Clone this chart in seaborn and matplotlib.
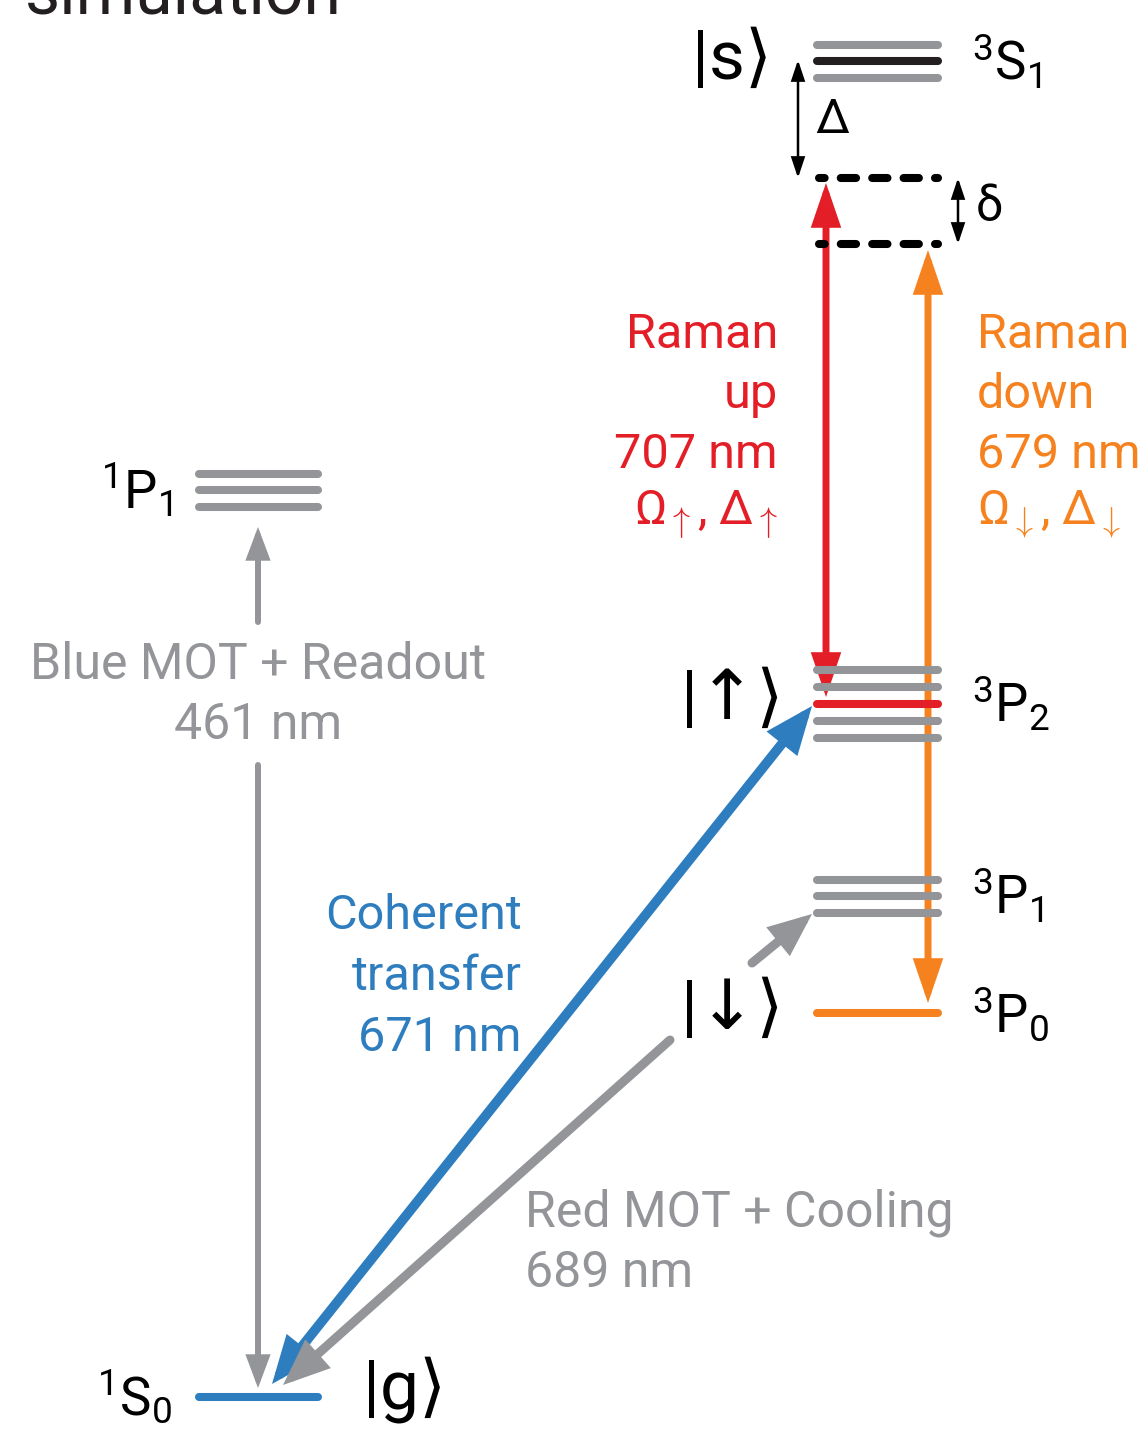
import pandas as pd
import matplotlib
matplotlib.use('Agg')
import matplotlib.pyplot as plt
import seaborn as sns
from matplotlib.patches import FancyArrowPatch

# ---- data (y runs downward like the image) ----
level_term = ['1P1', '1P1', '1P1', '1S0', '3S1', '3S1', '3S1',
              '3P2', '3P2', '3P2', '3P2', '3P2', '3P1', '3P1', '3P1', '3P0']
level_col = ['left', 'left', 'left', 'left', 'right', 'right', 'right',
             'right', 'right', 'right', 'right', 'right', 'right', 'right', 'right', 'right']
level_y = [474, 490, 507, 1397, 45, 61, 78,
           670, 687, 704, 721, 738, 880, 896, 913, 1013]
level_color = ['grey', 'grey', 'grey', 'blue', 'grey', 'black', 'grey',
               'grey', 'grey', 'red', 'grey', 'grey', 'grey', 'grey', 'grey', 'orange']
virtual_y = [178, 244]

# transitions: (x0, y0, x1, y1)
blue_mot_up = (258, 622, 258, 527)
blue_mot_down = (258, 765, 258, 1388)
raman_up = (826, 697, 826, 183)
raman_down = (928, 250, 928, 1003)
coherent = (272, 1384, 812, 706)
red_mot = (670, 1040, 283, 1385)
red_mot_short = (752, 963, 812, 914)
detuning_big = (798, 60, 798, 178)
detuning_small = (958, 178, 958, 244)

blue_mot_text = ['Blue MOT + Readout', '461 nm']
coherent_text = ['Coherent', 'transfer', '671 nm']
raman_up_text = ['Raman', 'up', '707 nm', r'$\Omega_{\uparrow}$, $\Delta_{\uparrow}$']
raman_down_text = ['Raman', 'down', '679 nm', r'$\Omega_{\downarrow}$, $\Delta_{\downarrow}$']
red_mot_text = ['Red MOT + Cooling', '689 nm']

term_labels = {'1P1': r'$^{1}$P$_{1}$', '1S0': r'$^{1}$S$_{0}$', '3S1': r'$^{3}$S$_{1}$',
               '3P2': r'$^{3}$P$_{2}$', '3P1': r'$^{3}$P$_{1}$', '3P0': r'$^{3}$P$_{0}$'}
term_label_y = {'1P1': 490, '1S0': 1397, '3S1': 62, '3P2': 704, '3P1': 896, '3P0': 1014}
kets = ['|s⟩', '|↑⟩', '|↓⟩', '|g⟩']
ket_pos = [(732, 60), (732, 700), (732, 1010), (405, 1390)]

palette = {'grey': '#939598', 'blue': '#2e7dbf', 'red': '#e31e26',
           'orange': '#f5821f', 'black': '#231f20'}
col_x = {'left': (199, 318), 'right': (817, 938)}

sns.set_theme(style='white')
plt.rcParams['font.family'] = ['Roboto', 'DejaVu Sans']
plt.rcParams['mathtext.fontset'] = 'custom'
plt.rcParams['mathtext.rm'] = 'Roboto'
plt.rcParams['mathtext.it'] = 'Roboto'

fig = plt.figure(figsize=(11.39, 14.39), dpi=100)
ax = fig.add_axes([0, 0, 1, 1])

rows = []
for i, (c, y, col) in enumerate(zip(level_col, level_y, level_color)):
    for x in col_x[c]:
        rows.append({'unit': i, 'x': x, 'y': y, 'color': col})
levels = pd.DataFrame(rows)
sns.lineplot(data=levels, x='x', y='y', units='unit', hue='color', palette=palette,
             estimator=None, sort=False, lw=5.8, solid_capstyle='round',
             legend=False, ax=ax)

for y in virtual_y:
    ax.plot([819, 938], [y, y], color='black', lw=5.8, solid_capstyle='round',
            dash_capstyle='round', linestyle=(1.2, (1.9, 2.0)))


def arrow(seg, color, lw, hl, hw, both=False):
    x0, y0, x1, y1 = seg
    style = '<|-|>' if both else '-|>'
    p = FancyArrowPatch((x0, y0), (x1, y1),
                        arrowstyle=f'{style},head_length={hl},head_width={hw}',
                        mutation_scale=10, color=color, lw=lw,
                        shrinkA=0, shrinkB=0, joinstyle='miter')
    ax.add_patch(p)


grey = palette['grey']
arrow(blue_mot_up, grey, 4.3, 1.6, 0.6)
arrow(blue_mot_down, grey, 4.3, 1.6, 0.6)
arrow(raman_up, palette['red'], 5.0, 2.2, 0.75, both=True)
arrow(raman_down, palette['orange'], 5.0, 2.2, 0.75, both=True)
arrow(coherent, palette['blue'], 7.0, 2.2, 0.9, both=True)
arrow(red_mot, grey, 6.5, 2.2, 0.9)
arrow(red_mot_short, grey, 6.5, 2.0, 0.85)
arrow(detuning_big, 'black', 1.8, 1.2, 0.4, both=True)
arrow(detuning_small, 'black', 1.8, 1.2, 0.4, both=True)

fs = 35
for i, t in enumerate(blue_mot_text):
    ax.text(258, 665 + 60 * i, t, color=grey, fontsize=36, ha='center', va='center')
for i, t in enumerate(coherent_text):
    ax.text(522, 916 + 61 * i, t, color=palette['blue'], fontsize=fs, ha='right', va='center')
for i, t in enumerate(raman_up_text):
    ax.text(778, 335 + 60 * i, t, color=palette['red'], fontsize=fs, ha='right', va='center')
for i, t in enumerate(raman_down_text):
    ax.text(977, 335 + 60 * i, t, color=palette['orange'], fontsize=fs, ha='left', va='center')
for i, t in enumerate(red_mot_text):
    ax.text(525, 1213 + 60 * i, t, color=grey, fontsize=36, ha='left', va='center')

ax.text(832, 120, 'Δ', fontsize=fs, ha='center', va='center', color='black')
ax.text(990, 208, 'δ', fontsize=fs, ha='center', va='center', color='black')

for term, lab in term_labels.items():
    if term.startswith('1'):
        ax.text(172, term_label_y[term], lab, fontsize=38, ha='right', va='center', color='black')
    else:
        ax.text(972, term_label_y[term], lab, fontsize=38, ha='left', va='center', color='black')

for k, (x, y) in zip(kets, ket_pos):
    ax.text(x, y, k, fontsize=50, ha='center', va='center', color='black')

ax.text(25, 13, 'simulation', fontsize=49, ha='left', va='baseline', color='#231f20')

ax.set_xlim(0, 1139)
ax.set_ylim(1439, 0)
ax.axis('off')
fig.savefig('out.png', dpi=100)
